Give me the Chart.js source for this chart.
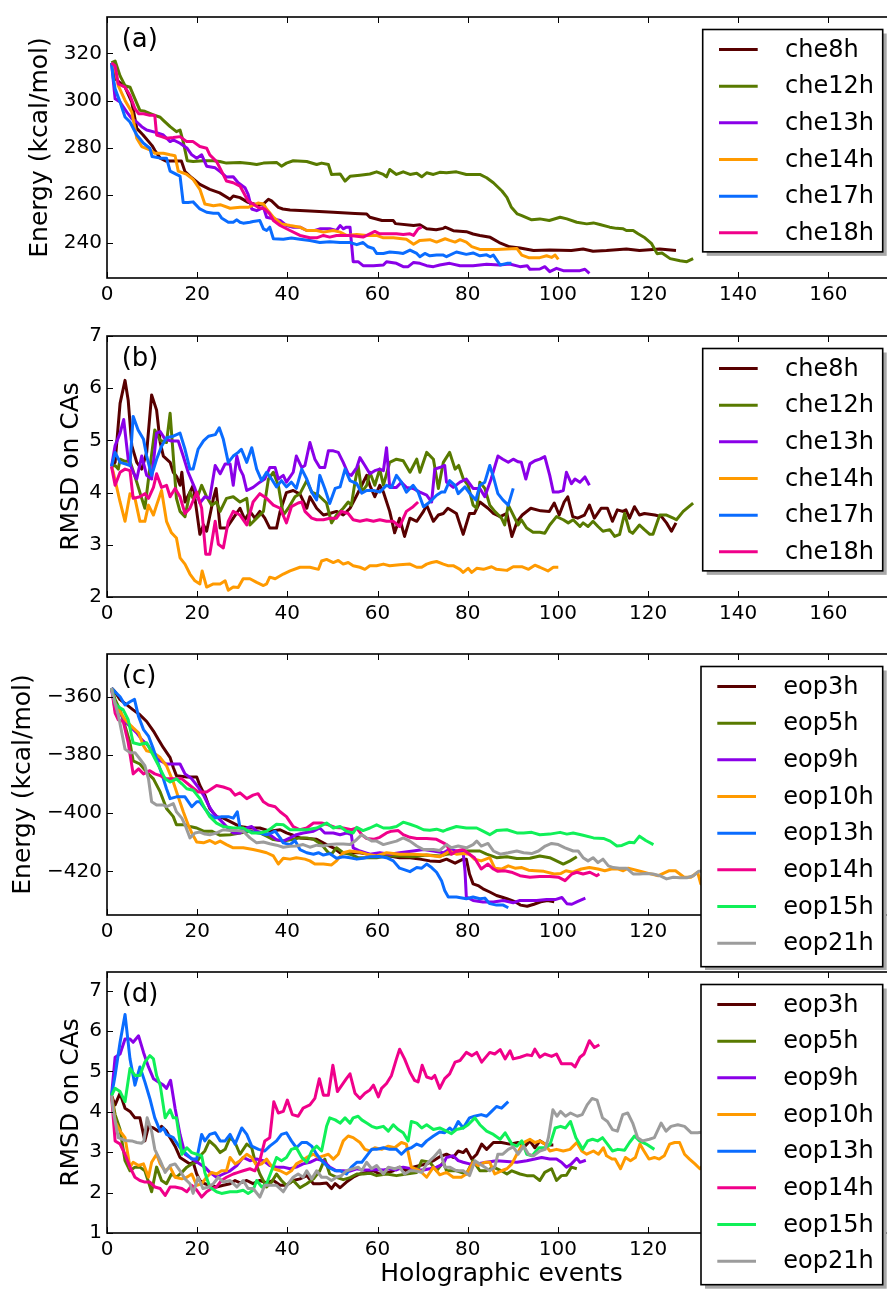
<!DOCTYPE html>
<html>
<head>
<meta charset="utf-8">
<script src="https://cdn.jsdelivr.net/npm/chart.js@4.4.1/dist/chart.umd.min.js"></script>
<style>
  html, body { margin: 0; padding: 0; background: #fff; overflow: hidden; width: 887px; height: 1289px; }
  body { position: relative; }
  canvas { position: absolute; left: 0; }
</style>
</head>
<body>
<canvas id="panelA"></canvas>
<canvas id="panelB"></canvas>
<canvas id="panelC"></canvas>
<canvas id="panelD"></canvas>
<script>
// ---------- shared axis ticks ----------
const xTicks = [0, 20, 40, 60, 80, 100, 120, 140, 160];
const yTicksA = [240, 260, 280, 300, 320];
const yTicksB = [2, 3, 4, 5, 6, 7];
const yTicksC = [-420, -400, -380, -360];
const yTicksD = [1, 2, 3, 4, 5, 6, 7];

const cheNames = ['che8h', 'che12h', 'che13h', 'che14h', 'che17h', 'che18h'];
const eopNames = ['eop3h', 'eop5h', 'eop9h', 'eop10h', 'eop13h', 'eop14h', 'eop15h', 'eop21h'];

// ---------- (a) energy of the che runs, [event, kcal/mol] ----------
const che8hEnergy = [[1,316],[2,309],[4,305.7],[5.5,299.4],[6.6,288.3],[8,285.5],[10,281],[10.6,279],[11.8,275.7],[13,274.5],[16.5,274.5],[17.3,270],[18.8,267.4],[20.6,264.6],[22.8,262.5],[25,261],[27.3,258.3],[28,259.7],[29.5,259],[31.3,257],[33.2,256],[34.7,256.3],[35.8,258.3],[36.5,257.6],[38,254.9],[39,254.2],[40.6,253.8],[45,253.3],[50.2,252.8],[55,252.3],[57.6,252.1],[58.3,250.7],[61,249.3],[63.5,249.3],[64,248],[68,247.2],[69.4,247.5],[70.9,245.8],[73,245.4],[74.6,246],[75,246.5],[76.8,245],[79.7,244.6],[81.2,243.6],[82.7,243],[85,242.2],[87,240],[89.3,238.2],[91.6,237.7],[94.6,236.6],[98.2,236.8],[103,236.6],[105.6,237.3],[107.8,236.3],[110.8,236.6],[115.2,237.3],[118.1,236.6],[122.6,237.3],[126.2,236.6]];
const che12hEnergy = [[1,316],[1.8,316.8],[2.9,310.5],[4,306.4],[5.1,305.7],[6.2,300.8],[7.3,295.9],[8.4,295.5],[10.3,294],[11.8,293],[12.5,291.7],[14,289],[15.4,286.9],[16.2,287.6],[16.9,282.7],[17.8,274.6],[19.1,274.3],[21.4,274.6],[23.6,274.6],[25,274.3],[26.5,273.6],[29.5,273.9],[31.7,273.4],[33.2,273],[34.7,273.6],[37.6,273.9],[38.7,272.3],[39.8,273.6],[41.3,274.6],[44.3,274.3],[46.5,273],[47.6,273.6],[49.1,273],[49.8,268.8],[51.7,269],[52.8,266],[53.9,268],[56.1,268.5],[58.3,269],[59.8,269.9],[61.3,268.8],[62,267.8],[62.7,270.9],[64.2,268.8],[65.7,269.9],[67.2,268.8],[68.7,269.3],[69.8,267.8],[70.9,269.5],[72.4,268.8],[73.8,269.7],[75.3,269.5],[77.5,269.9],[79.7,268.8],[82.7,268.8],[84.2,267.4],[85.7,265.3],[87.6,261.8],[88.7,259.1],[89.7,254.9],[91,252.1],[92,251.4],[94.2,249.6],[96,250],[98.1,249.3],[100.5,250.7],[102,250],[104.2,248.6],[106.4,247.9],[107.9,248.3],[109.3,247.6],[111.5,246.5],[113,246],[114.5,245.8],[115.2,245.1],[116.7,245.1],[117.8,243.7],[119.3,242],[120.8,239.5],[122,235.3],[123.1,235.6],[124.9,233.2],[127.1,232.3],[128.6,231.9],[130,233.2]];
const che13hEnergy = [[1,316],[1.8,300.8],[2.9,299.4],[4.4,295.2],[5.5,292.4],[6.6,291],[7.7,289],[8.8,287.6],[11,286.5],[12.5,285.5],[14,282.7],[14.7,283.4],[16.2,282],[17.7,280],[18.8,277.1],[19.9,275.7],[21,277.1],[22.1,272.3],[24,271.6],[25.1,270],[26.5,267.7],[28,267.8],[29.1,265.3],[30.6,263.2],[31.3,260.4],[32.1,254.2],[33.2,253.5],[34.7,254.9],[35.4,250.7],[36.9,250],[38.4,249.3],[39.8,247.2],[41.3,246.5],[42.8,246.5],[44.3,245.1],[46.1,245.1],[47.2,245.8],[49.4,245.8],[50.9,245.1],[51.7,247.2],[52.4,245.8],[53.1,246.5],[53.9,246.5],[54.6,231.9],[55.7,231.9],[56.8,230.2],[59.1,230.2],[61.3,230.5],[62,231.9],[64.2,231.2],[65.7,229.8],[66.8,229.8],[68,231.6],[69.4,231.2],[70.9,230.2],[72.4,229.8],[73.8,230.5],[76,231.2],[78.3,230.2],[81.2,230.2],[84.2,230.8],[87,230.5],[89.3,230.9],[91.6,229.8],[93.2,230.2],[93.8,228.7],[96,228.8],[97.1,229.8],[98.2,227.7],[99.7,229.1],[101.2,228.1],[103.4,228.1],[104.9,228.1],[106,228.7],[107,227]];
const che14hEnergy = [[1,316],[1.8,313.3],[2.5,306.4],[4,300.1],[5.5,295.2],[6.6,284.1],[7.7,280.6],[9.5,279.2],[10.6,277.8],[12.5,277.8],[14,277.1],[15.1,276.7],[15.8,270.2],[17.7,268.8],[19.1,266.7],[20.6,262.5],[21.7,256.3],[23.6,255.6],[25.1,256],[27.3,254.5],[29.5,254.9],[31.3,254.9],[33.5,256.7],[34.7,256.3],[35.4,254.2],[36.9,250.7],[38.7,247.9],[40.6,247.2],[42.8,246.5],[44.3,245.1],[46.5,245.1],[48,244.4],[50.2,245.1],[51.7,244.4],[53.1,243],[55.4,243.4],[57.6,243],[59.8,243],[61.3,242],[63.5,242],[66.4,241.4],[68,239.3],[69.4,240.9],[71.6,241.2],[73.1,240.2],[75,241.6],[76,240.9],[77.2,240.2],[78.3,241.2],[79.7,240.2],[80.9,238.3],[82.7,237.1],[86.4,237.1],[90.9,237.5],[92,234.7],[93.5,233.6],[96,233.6],[97.5,234.4],[98.6,233.7],[99.4,234.7],[100.1,232.9]];
const che17hEnergy = [[1,316],[1.4,309.5],[1.8,305],[2.9,299.4],[4,293.1],[5.1,291],[6.6,285.5],[8.1,282],[9.5,279.9],[10,276.4],[11.8,275.7],[13.2,275.7],[14,270.2],[15.4,268.8],[16.2,268.1],[16.9,256.9],[18,256.9],[19.1,257.2],[20.6,254.2],[22.1,252.8],[23.6,252.4],[24.7,252.4],[25.4,250.4],[26.9,248.6],[28,248.6],[28.8,249.6],[29.5,248.6],[30.2,248.2],[31.7,248.6],[32.4,248.9],[33.9,249.3],[34.7,245.8],[35.4,245.1],[36.1,246.5],[36.9,241.6],[39.1,241.4],[40.9,241.9],[42.8,241.4],[45,240.9],[47.2,240],[49.4,240.3],[51.7,240],[53.9,240],[55.4,239.1],[56.8,240],[57.9,238.2],[59.1,237.5],[59.8,235.4],[61.3,235.4],[62.7,236],[64.6,235.7],[65.7,235.4],[67.2,236.8],[68.7,235.4],[69.4,234],[70.5,235.4],[71.6,234.4],[73.1,234.7],[74.6,234.7],[75.3,234],[77.5,236],[79.7,235],[81.2,235.6],[82.7,234.4],[84.2,234.8],[85,234],[85.7,234.7],[87.2,230.5],[88.7,231.2],[89.7,231.2]];
const che18hEnergy = [[1,316],[1.8,314.7],[2.5,307.1],[4,305.7],[5.1,302.2],[6.2,296.6],[7,294.5],[8.1,294.5],[9.5,293.8],[10.6,293.8],[11,285.5],[12.1,284.8],[13.2,284.1],[14.7,284.4],[16.2,284.8],[17.7,282.7],[19.1,282.7],[20.6,280.6],[22.1,279.9],[22.8,277.1],[24.3,274.3],[25.4,270.2],[26.5,266],[28,265.3],[29.5,263.9],[31.3,257.6],[32.4,256.3],[33.5,254.9],[35,254.2],[36.1,252.1],[36.9,249.3],[38.4,247.2],[40.6,245.1],[42.8,243],[45,242],[46.5,242],[48,243],[49.4,242.3],[50.9,243],[53.9,243],[56.8,242.3],[58.3,243.7],[59.4,244.7],[60.5,243.7],[62,243.7],[64.2,243.7],[65.7,243.4],[67.2,243.7],[68,243],[69,245.8],[69.8,246.5]];

// ---------- (b) RMSD on CAs of the che runs ----------
const che8hRmsd = [[1,4.52],[1.8,4.58],[2.9,5.71],[4,6.15],[4.7,5.77],[5.5,4.9],[6.6,4.58],[7.7,4.45],[8.8,4.77],[9.9,5.87],[11,5.58],[11.8,4.96],[12.5,4.7],[14,4.58],[14.7,4.39],[15.5,4.3],[16.2,4.14],[16.6,4.39],[17.3,3.82],[18.4,4.01],[19.1,4.14],[19.9,3.64],[20.6,3.2],[21.4,3.38],[22.1,3.26],[23.6,3.89],[24.2,4.08],[25.1,3.32],[26.5,3.32],[28,3.51],[29.5,3.7],[30.6,3.48],[31.7,3.64],[32.8,3.51],[33.9,3.64],[35,3.51],[36.1,3.32],[37.6,3.32],[38.4,3.64],[39.8,4.0],[41.3,4.04],[42.8,3.97],[44.3,3.7],[45,3.92],[46.5,3.7],[48,3.57],[49.4,3.6],[50.9,3.64],[52.4,3.57],[53.9,3.7],[55.4,3.95],[56.5,4.14],[57.6,4.33],[58.3,4.14],[59.4,3.92],[60.5,4.14],[61.3,4.01],[62.7,3.64],[63.8,3.23],[64.9,3.51],[66,3.16],[67.2,3.51],[68.7,3.45],[70.2,3.64],[70.9,3.76],[72.4,3.45],[73.5,3.57],[74.6,3.6],[75.6,3.7],[77.5,3.6],[79,3.2],[80.4,3.6],[81.5,3.6],[82.7,3.82],[84.5,3.7],[85.7,3.6],[87.2,3.54],[88.7,3.6],[89.8,3.16],[91,3.45],[92.1,3.57],[94,3.7],[96.2,3.65],[98.1,3.64],[99.2,3.8],[100.3,3.57],[101.4,3.82],[102.2,3.92],[103.3,3.54],[104.4,3.51],[105.9,3.57],[107,3.76],[108.1,3.51],[109.6,3.7],[111,3.7],[112.1,3.45],[113.2,3.67],[114.4,3.64],[115.1,3.67],[115.9,3.51],[117,3.73],[118.1,3.57],[119.2,3.6],[121.5,3.57],[123,3.54],[124.1,3.42],[125.2,3.26],[126.2,3.42]];
const che12hRmsd = [[1,4.5],[1.8,4.52],[2.5,4.45],[2.9,4.64],[4,4.6],[5.1,4.6],[6.6,4.2],[7.7,3.89],[8.4,3.7],[9.2,4.26],[10.6,5.2],[11.8,5.0],[13.2,4.96],[14,5.52],[14.7,4.7],[15.4,3.89],[16.2,3.64],[17.3,3.54],[18.4,4.01],[19.1,3.89],[20.2,3.95],[21,4.14],[22.1,3.92],[23.2,3.76],[24.3,3.82],[25.1,3.64],[26.5,3.89],[28,3.92],[29.5,3.82],[31,3.89],[31.7,3.38],[33.2,3.51],[34.7,3.64],[35.8,4.26],[36.9,4.39],[38,4.14],[39.1,3.57],[40.2,3.7],[41.7,3.92],[42.8,3.98],[44.3,4.23],[45.4,4.01],[46.9,3.95],[48.7,3.8],[49.8,3.42],[50.9,3.57],[52.4,3.7],[53.5,3.82],[54.2,3.76],[55,4.2],[55.7,4.52],[56.5,4.01],[57.6,4.14],[58.3,4.39],[59.4,4.14],[60.5,4.45],[61.3,4.14],[62.7,4.58],[64.2,4.64],[65.7,4.61],[67.2,4.39],[68.7,4.64],[69.4,4.39],[70.9,4.77],[72.4,4.64],[73.5,4.08],[74.6,4.58],[76,4.77],[77.2,4.45],[78,4.52],[79,4.27],[80.1,4.14],[81.2,3.76],[82,3.7],[82.7,4.2],[83.8,4.08],[84.9,3.76],[86,3.64],[87.5,3.51],[88.2,3.38],[89,3.76],[89.7,3.64],[91.2,3.38],[91.9,3.48],[93.1,3.32],[94.5,3.24],[96,3.24],[97.1,3.22],[98.2,3.38],[99.7,3.54],[101.2,3.48],[102.3,3.42],[103.4,3.48],[104.9,3.35],[105.6,3.42],[106.7,3.35],[107.8,3.45],[108.9,3.35],[110,3.26],[111.5,3.29],[112.6,3.16],[113.7,3.2],[114.8,3.6],[115.9,3.26],[116.6,3.22],[118.1,3.38],[119.2,3.29],[120.4,3.2],[121.1,3.2],[122.6,3.57],[124.1,3.57],[125.6,3.51],[126.3,3.48],[127.8,3.64],[130,3.8]];
const che13hRmsd = [[1,4.5],[1.8,4.9],[2.9,5.14],[3.7,5.4],[4.7,4.64],[5.8,4.39],[6.6,4.26],[7.7,4.7],[8.8,4.33],[9.9,4.26],[11,5.14],[11.8,5.17],[12.9,5.02],[14.3,4.99],[15.8,4.99],[16.9,4.7],[18,4.39],[19.5,4.08],[20.6,3.8],[21.7,3.92],[22.8,3.89],[24,4.52],[25.1,4.36],[26.2,4.55],[27.3,4.55],[28,4.14],[28.8,4.7],[29.5,4.45],[30.2,4.33],[31,4.04],[32.4,4.1],[33.9,4.2],[35,4.26],[36.1,4.48],[37.3,4.48],[38,4.26],[39.1,4.33],[39.8,4.2],[41.3,4.39],[42,4.7],[43.2,4.48],[43.9,4.52],[45,4.96],[46.1,4.64],[47.2,4.48],[48.3,4.48],[49.1,4.8],[50.2,4.8],[51.3,4.77],[52.4,4.58],[53.5,4.36],[54.2,4.33],[55.4,4.48],[56.1,4.67],[57.2,4.52],[58.3,4.36],[59.4,4.42],[60.5,4.45],[61.3,4.42],[62,4.86],[62.7,4.1],[64.2,4.1],[65.3,4.2],[66.4,4.1],[67.9,4.08],[69.4,4.01],[70.9,3.95],[72,3.82],[72.7,4.45],[73.8,4.48],[74.9,4.52],[75.3,4.2],[76.8,4.1],[78.3,4.2],[79.7,4.26],[81.2,4.08],[82.7,4.08],[83.8,3.92],[85.2,4.26],[86.7,4.7],[87.8,4.64],[89,4.58],[90.1,4.64],[91.2,4.59],[91.9,4.58],[92.9,4.26],[93.8,4.55],[94.9,4.61],[96,4.64],[97.1,4.69],[98.2,4.33],[99,4.01],[100.1,4.01],[101.2,4.04],[101.9,4.39],[103,4.17],[103.8,4.26],[104.9,4.2],[106,4.3],[107,4.14]];
const che14hRmsd = [[1,4.5],[1.4,4.39],[2.9,3.82],[4,3.45],[5.1,3.98],[6.2,3.89],[7.3,3.45],[8.4,3.45],[9.2,3.76],[10.3,3.57],[11,3.76],[12.1,4.04],[13.2,3.45],[14.3,3.23],[15.4,3.13],[16.2,2.75],[17.3,2.63],[18.4,2.44],[19.5,2.31],[20.6,2.25],[21.1,2.5],[22.1,2.19],[23.6,2.25],[25.1,2.25],[26.2,2.31],[26.9,2.13],[28,2.19],[29.1,2.18],[30.2,2.35],[31.7,2.35],[33.2,2.28],[34.7,2.22],[35.4,2.25],[36.1,2.38],[37.3,2.35],[39.1,2.44],[40.6,2.5],[42.8,2.57],[45,2.57],[46.9,2.53],[47.6,2.69],[48.7,2.72],[50.2,2.66],[51.3,2.7],[52.4,2.63],[53.5,2.66],[54.6,2.6],[56.1,2.57],[57.2,2.53],[58.3,2.6],[59.8,2.6],[61.3,2.63],[62.7,2.6],[64.9,2.62],[67.2,2.63],[68.7,2.57],[69.8,2.57],[70.9,2.63],[72,2.66],[73.1,2.68],[74.6,2.63],[75.6,2.6],[76.8,2.6],[78.3,2.53],[79,2.47],[80.1,2.55],[80.9,2.47],[82,2.55],[83.5,2.53],[85.3,2.58],[86.4,2.53],[88.7,2.51],[90.1,2.58],[92,2.58],[93.5,2.53],[94.9,2.61],[96,2.57],[97.8,2.5],[99,2.57],[100.1,2.57]];
const che17hRmsd = [[1,4.5],[1.8,4.77],[2.9,4.58],[4,4.55],[5.1,4.52],[5.8,5.46],[6.9,5.2],[8.1,5.02],[8.8,4.7],[9.9,4.33],[11,4.64],[12.1,4.89],[13.2,5.05],[14.7,5.08],[16.2,5.14],[17.3,4.83],[18.4,4.45],[19.1,4.45],[20.2,4.83],[21.4,4.99],[22.5,5.08],[24,5.11],[24.9,5.24],[25.8,5.02],[26.9,4.58],[28,4.7],[29.1,4.77],[29.8,4.83],[31,4.58],[32.1,4.86],[33.2,4.45],[34.3,4.23],[35.4,4.39],[36.5,4.26],[37.6,4.11],[38.7,4.23],[39.8,4.11],[40.9,4.2],[42,4.08],[43.2,4.45],[44.3,4.26],[45.4,4.01],[46.5,3.86],[47.2,4.33],[48.3,4.08],[49.4,3.79],[50.6,4.08],[51.7,4.11],[52.8,4.45],[53.9,4.23],[55.4,4.17],[56.5,3.99],[57.6,4.04],[59.1,4.04],[60.5,4.01],[62,4.14],[63.1,4.1],[64.2,4.33],[65.3,4.2],[66.4,4.01],[67.9,4.14],[69,4.01],[70.2,3.73],[71.6,3.82],[73.1,3.95],[74.2,4.01],[74.9,4.01],[76,4.23],[77.2,4.14],[77.9,3.98],[79.4,4.11],[80.5,3.98],[81.8,3.86],[82.7,4.14],[83.8,4.2],[84.9,4.52],[85.7,4.3],[86.7,3.98],[87.8,3.86],[89,3.76],[90.1,4.08]];
const che18hRmsd = [[1,4.5],[1.8,4.14],[2.9,4.39],[4,4.45],[5.1,4.42],[5.8,3.89],[7.3,3.92],[8.4,3.98],[9.2,3.89],[10.3,4.1],[11,4.36],[12.1,4.1],[13.2,4.14],[14,3.92],[15.1,4.08],[16.2,3.92],[17.3,3.6],[18.4,3.7],[19.9,4.01],[21,3.7],[21.9,2.82],[22.8,2.82],[24,3.45],[24.7,3.01],[25.8,2.94],[26.9,3.45],[28,3.64],[29.5,3.57],[31,3.38],[32.4,3.82],[33.9,3.98],[35.4,3.89],[36.9,3.76],[38.4,3.7],[39.8,3.42],[40.9,3.73],[42.4,3.8],[43.2,3.82],[43.9,3.64],[45.4,3.51],[46.5,3.48],[48,3.48],[49.4,3.51],[50.9,3.51],[52,3.64],[53.5,3.6],[54.6,3.48],[56.1,3.45],[57.6,3.48],[59.1,3.45],[60.5,3.48],[62,3.45],[63.5,3.45],[64.9,3.35],[66.4,3.64],[67.9,3.73],[69,3.82]];

// ---------- (c) energy of the eop runs ----------
const eop3hEnergy = [[1,-357],[1.8,-358.3],[2.9,-361],[4.4,-362.8],[5.8,-364.5],[7.3,-366.2],[8.8,-368.5],[10.3,-371.8],[11.4,-374.7],[12.5,-377.5],[14,-380.9],[14.7,-384.3],[15.4,-387.1],[17.7,-387.6],[19.9,-387.6],[20.6,-390.5],[21.7,-393.8],[22.8,-398.4],[24.3,-401.2],[25.8,-401.7],[28,-403.4],[29.5,-404.6],[31.7,-405.1],[33.9,-405.1],[36.1,-406.2],[38.4,-405.7],[39.8,-406.8],[41.3,-407.6],[42.8,-408.5],[44.3,-408.7],[46.5,-409],[48.7,-410.8],[50.2,-411.9],[51.7,-413.6],[53.9,-413.6],[56.1,-413.6],[58.3,-414.2],[60.5,-414.7],[62.7,-414.7],[64.9,-415.3],[67.2,-415.3],[69.4,-415.8],[71.6,-416.4],[73.8,-416.6],[75.3,-415.8],[77.2,-417.2],[79,-415.8],[79.7,-415.8],[80.4,-420.9],[81.2,-424.3],[82.3,-424.9],[83.4,-426],[84.9,-427.1],[86.4,-428.3],[87.5,-428.8],[88.7,-429.4],[90.6,-430.5],[91.7,-431.6],[93.2,-432],[94.7,-431.3],[96.2,-430.5],[97.7,-430],[99.2,-430.5]];
const eop5hEnergy = [[1,-357],[1.8,-361],[2.9,-364.5],[4,-370],[5.1,-375.8],[5.8,-382],[7.3,-383.1],[8.8,-385.9],[10.3,-388.2],[11.8,-392.7],[13.2,-398.4],[14.7,-401.2],[15.4,-404],[17,-404],[18.4,-404.6],[19.9,-405.1],[21.4,-406.2],[23.2,-406.2],[25.1,-407.6],[27.3,-407.4],[29.5,-406.8],[31.7,-406.2],[33.9,-406.8],[35.4,-407.9],[36.9,-409.1],[39.1,-409.6],[41.3,-409],[42.8,-408.5],[44.3,-408.5],[45.8,-409],[47.6,-410.8],[49.1,-413.6],[49.8,-414.1],[50.9,-411.9],[52.4,-413.6],[53.9,-414.1],[55.7,-415.3],[57.6,-415.3],[59.8,-415.3],[62,-414.7],[64.9,-414.7],[67.9,-415],[70.9,-414.4],[73.8,-414.7],[75.3,-414.1],[78.3,-413.6],[79.7,-413],[82.7,-413],[84.2,-414.1],[86.4,-415.3],[88.7,-415],[90.9,-415.6],[93.8,-415.5],[96,-414.7],[98.2,-415.3],[99.7,-416.4],[101.2,-417.5],[102.7,-416.4],[104.2,-415]];
const eop9hEnergy = [[1,-357],[1.8,-364.5],[2.9,-365.6],[4,-368.5],[5.1,-370.2],[6.6,-372.4],[7.7,-374.7],[9.2,-376.9],[10.3,-379.7],[11.8,-382],[13.2,-383.1],[14.7,-383.1],[16.2,-383.1],[17.3,-386.5],[18.8,-388.2],[20.2,-391],[21.4,-393.8],[22.5,-397.2],[23.6,-400],[25.1,-402.3],[26.5,-404.6],[28,-406.8],[29.5,-406.8],[31,-405.1],[32.1,-404.6],[33.2,-406.2],[34.7,-406.8],[36.1,-407.4],[37.6,-409.1],[39.1,-409.6],[40.6,-408.5],[42,-407.4],[43.5,-406.8],[45.8,-406.2],[47.2,-405.1],[48.3,-406.8],[50.2,-406.8],[51.7,-407.4],[53.1,-406.8],[54.2,-407.4],[54.6,-411.9],[56.1,-413],[58.3,-414.1],[60.5,-413.6],[62.7,-414.1],[64.9,-413.6],[67.9,-413],[70.2,-412.5],[72.4,-413],[74.6,-413.6],[75.3,-413],[76,-412.5],[77.5,-413],[79,-413.6],[79.4,-419.8],[79.7,-428.8],[81.2,-430],[83.4,-430.5],[85.7,-430.5],[87.9,-430],[90.1,-430.8],[91.6,-430],[93.5,-430],[95.3,-430],[97.5,-429.7],[99.4,-429.7],[100.9,-429],[102,-431.1],[103.1,-431.3],[104.2,-430.5],[106.1,-429.2]];
const eop10hEnergy = [[1,-357],[1.8,-363.4],[2.9,-365.1],[4,-367.9],[4.7,-369],[5.8,-370.7],[7,-372.4],[8.1,-376.9],[8.8,-378.6],[10.3,-379.2],[11.8,-380.9],[13.2,-383.7],[14.7,-389.3],[15.8,-394.4],[16.9,-399.4],[18,-404],[18.8,-406.8],[19.9,-409.9],[21.4,-410.2],[22.8,-409.4],[24,-410.4],[25.1,-409.6],[26.5,-410.8],[28,-411.9],[30.2,-411.9],[32.4,-412.5],[33.9,-413],[35.4,-413.6],[36.9,-414.7],[38,-417.5],[39.1,-415.5],[40.6,-415.8],[42,-415.3],[43.9,-415.8],[45,-416.4],[46.1,-417.5],[48,-417.5],[49.8,-417.8],[50.9,-416.4],[52.4,-413.6],[53.9,-413],[56.1,-413.4],[57.6,-414.1],[59.8,-414.7],[62,-413.6],[64.9,-414.1],[67.9,-414.1],[70.9,-414.4],[73.8,-415],[75,-414],[76,-413],[77.5,-414.1],[79,-413.9],[80.4,-414.1],[81.5,-415.8],[83,-416.4],[84.9,-415.3],[86,-418.9],[87.5,-419.2],[89,-418.1],[90.5,-418.9],[92,-418.7],[93.5,-419.6],[95,-419.8],[96.9,-420],[99.2,-420.9],[100.7,-420.7],[101.8,-419.8],[103.3,-420.3],[105.2,-419.2],[107,-418.7],[108.9,-419.2],[110.4,-419.8],[111.9,-419.2],[113.4,-419.2],[114.5,-419.8],[115.6,-418.9],[117.8,-419.8],[120.1,-420.7],[122.3,-421.5],[124.6,-419.8],[126.1,-419.8],[128,-422],[129.5,-422],[131,-420.3],[131.7,-424.3],[132.3,-424],[134,-423]];
const eop13hEnergy = [[1,-357],[1.8,-358.3],[2.9,-360],[4,-362.8],[5.1,-361.7],[6.1,-360.9],[7,-366.8],[8.1,-371.3],[9.2,-373.5],[10.3,-378],[11.4,-383.1],[12.5,-388.2],[13.2,-391.6],[14,-395],[15.4,-394.4],[17.3,-394.4],[18.8,-397.8],[19.9,-396.1],[20.6,-396.1],[21.7,-398.4],[22.8,-400.6],[24,-401.7],[25.4,-401.2],[26.9,-401.2],[28,-401.7],[28.9,-399.5],[29.5,-405.1],[31,-406],[32.4,-406.6],[33.9,-406.8],[35.4,-407.4],[36.5,-406.8],[37.3,-406.2],[38.4,-408.5],[39.1,-410.2],[40.6,-410.8],[41.7,-409.4],[42.8,-412.5],[44.3,-413.6],[45.8,-414.1],[46.9,-413.6],[48,-414.4],[49.4,-413.9],[50.9,-415.5],[52.4,-415],[53.9,-415.3],[55.4,-415.8],[56.8,-415.5],[58.3,-415],[60.5,-414.9],[62,-415.3],[63.5,-416.4],[64.9,-418.9],[67.2,-420.1],[68.7,-418.7],[69.8,-418.9],[70.9,-417.5],[72,-418.7],[73.1,-420.3],[74.2,-423.2],[74.9,-426.6],[75.7,-428.8],[77.5,-428.8],[79.7,-429.4],[81.2,-428.8],[82.7,-429.4],[83.8,-429.2],[84.9,-431.1],[86.4,-431.6],[87.9,-431.6],[89,-432.5]];
const eop14hEnergy = [[1,-357],[1.8,-365.6],[2.5,-367.9],[3.6,-368.5],[4.7,-375.8],[5.8,-386.5],[7,-384.8],[8.1,-386.5],[9.5,-385.4],[10.6,-386.5],[11.8,-387.1],[13.2,-388.2],[14.7,-388.2],[16.6,-388.2],[18.4,-390.5],[20.2,-392.7],[22.1,-392.7],[24.3,-390.5],[25.8,-391],[27.3,-391.8],[28.4,-393.8],[29.5,-393],[31,-395],[32.4,-393.8],[33.5,-393.3],[34.7,-396.1],[35.8,-397.2],[37.3,-397.8],[38.4,-399.5],[39.8,-401.2],[41.3,-404.6],[42.8,-405.7],[44.3,-405.1],[45.8,-403.4],[47.6,-403.4],[49.1,-404],[50.6,-404.9],[52.4,-405.1],[54.2,-405.7],[55.4,-405.1],[56.5,-407.4],[57.6,-408.7],[59.1,-409],[60.5,-408.3],[62,-406.8],[63.1,-406.2],[64.6,-406],[65.7,-407.4],[67.2,-408.3],[68.7,-408.7],[70.9,-408.7],[73.1,-409],[74.6,-410.2],[75.3,-410.8],[76.4,-414.1],[77.5,-413],[79,-412.5],[80.4,-414.1],[81.5,-415.3],[83,-419.2],[84.5,-417.5],[85.7,-419.2],[86.7,-420],[88.2,-419.8],[89.7,-420.3],[91.6,-421.5],[93.8,-422],[96,-421.8],[98.2,-421.8],[100.1,-422],[101.6,-423.2],[103.1,-420.9],[104.2,-420.3],[105.6,-420.9],[107.1,-420.3],[108.6,-421.5],[109.2,-420.9]];
const eop15hEnergy = [[1,-357],[1.8,-362.3],[2.5,-363.4],[3.6,-364.5],[4.7,-367.9],[5.8,-375.8],[7.3,-376.4],[8.8,-375.8],[10.3,-380.3],[11.8,-384.8],[12.9,-388.2],[14,-389.3],[15.4,-388.2],[16.6,-389.9],[17.7,-391.6],[19.1,-392.1],[20.6,-395],[21.7,-398.4],[22.8,-401.2],[24.3,-403.4],[25.8,-404.6],[28,-405.1],[30.2,-405.1],[32.1,-406.8],[33.9,-406.8],[35.4,-406.2],[36.5,-405.1],[37.6,-403.8],[39.1,-404],[40.6,-405.7],[42,-405.7],[44.3,-405.7],[46.5,-405.1],[48.7,-403.4],[50.2,-405.1],[51.7,-404.6],[53.1,-406.2],[54.6,-406.8],[55.4,-404.9],[56.8,-406],[58.3,-405.1],[59.8,-404],[61.3,-405.1],[62.7,-405.1],[64.2,-404.6],[65.7,-403.1],[67.2,-403.8],[68.7,-404.6],[70.2,-405.7],[71.6,-405.9],[73.1,-405.5],[74.6,-406.2],[75.3,-405.7],[77.5,-404.6],[79.7,-405.1],[82,-405.1],[83.4,-406.2],[84.9,-407.4],[86.4,-406],[88.7,-405.7],[90.9,-406.8],[92.4,-406.8],[94.2,-406.6],[96,-407.4],[98.2,-407.2],[100.5,-406.6],[102,-407.2],[103.4,-406.8],[105.6,-407.6],[107.9,-408.5],[110.1,-408.7],[111.6,-409.6],[113.1,-411.3],[114.2,-411.1],[115.8,-410],[116.9,-410.2],[118.1,-407.9],[119.5,-409.4],[121.2,-410.8]];
const eop21hEnergy = [[1,-357],[1.4,-360],[2.5,-366.2],[4,-378],[5.1,-379.2],[6.2,-379.2],[7.3,-381.4],[8.4,-383.7],[9.2,-388.2],[9.9,-396.1],[11,-397.2],[12.5,-397.2],[13.2,-397.8],[14.7,-396.7],[15.4,-399.5],[16.6,-401.7],[17.3,-404],[18.4,-408.5],[19.5,-406.8],[20.6,-406.5],[21.7,-407.2],[22.8,-407.4],[24.3,-406.8],[25.8,-405.7],[27.3,-406],[28.8,-406],[30.2,-406.2],[31.7,-408.5],[33.2,-410.2],[34.7,-409.9],[36.1,-410.5],[37.6,-411],[39.1,-411.7],[40.6,-411.4],[42,-411.3],[43.5,-410.8],[45,-411.7],[46.5,-411],[48,-411.3],[49.4,-410.8],[50.9,-410.6],[52.4,-410.6],[53.9,-410.8],[55,-409.6],[56.5,-407.4],[57.6,-408.5],[58.7,-409.6],[59.8,-409.6],[61.3,-410.8],[62.7,-410.2],[64.2,-409.6],[65.7,-408.5],[67.2,-409.6],[68.7,-411.3],[70.2,-412.5],[72.4,-412.5],[73.8,-412.8],[75.3,-410.8],[76.4,-411.9],[77.9,-411.3],[79.7,-411.9],[81.2,-410.8],[82,-409.6],[83,-411.3],[84.5,-410.4],[85.7,-413],[87.2,-414.1],[89,-413.6],[90.9,-413],[92.4,-413.6],[94.2,-413.9],[95.7,-413],[97.2,-411.3],[98.6,-410.4],[100.1,-410.8],[101.6,-411.9],[103.4,-413],[104.5,-413],[105.6,-415.3],[106.7,-416.4],[107.8,-415.3],[108.9,-417],[110,-415.8],[111.2,-418.1],[112.3,-418.7],[113.7,-418.9],[115.2,-418.9],[116.7,-420.9],[118.1,-420.9],[119.6,-420.7],[121.1,-420.9],[122.6,-421.5],[124.1,-422.6],[125.6,-422],[127.1,-422.2],[128.6,-422.2],[130.1,-421.5],[131.2,-420],[132,-420],[134,-421]];

// ---------- (d) RMSD on CAs of the eop runs ----------
const eop3hRmsd = [[1,4.4],[1.8,4.17],[2.9,4.46],[4,4.09],[5.1,4.01],[6.2,3.85],[7.3,3.85],[8.4,3.28],[9.2,3.64],[10.3,3.6],[11.4,3.52],[12.1,3.64],[13.2,3.52],[14,3.36],[15.1,3.15],[16.2,2.87],[17.3,2.79],[18.4,2.71],[19.1,2.75],[19.9,2.46],[20.6,2.3],[21.7,2.22],[22.8,2.18],[24.3,2.14],[25.8,2.18],[27.3,2.22],[28.4,2.3],[29.5,2.24],[31,2.3],[32.4,2.22],[33.9,2.3],[35.4,2.24],[36.9,2.3],[38.4,2.18],[39.8,2.18],[41.3,2.3],[42.8,2.34],[44.3,2.42],[45.8,2.22],[47.2,2.22],[48.7,2.24],[49.8,2.1],[50.6,2.22],[51.7,2.12],[53.1,2.26],[54.6,2.38],[56.1,2.46],[57.6,2.5],[59.1,2.54],[60.5,2.46],[62,2.48],[63.5,2.54],[64.9,2.63],[66.4,2.54],[67.9,2.63],[69.4,2.67],[70.9,2.71],[72.4,2.79],[73.8,2.89],[75.3,2.95],[76.8,2.87],[77.9,3.03],[79,2.99],[79.7,3.07],[80.9,2.83],[82,2.95],[83.1,3.2],[84.2,3.07],[85.7,3.24],[87.5,3.24],[89.3,3.2],[91.2,3.24],[92.7,3.15],[93.8,3.28],[94.9,3.11],[96,3.28],[97.5,3.18],[99,3.18]];
const eop5hRmsd = [[1,4.4],[1.8,3.93],[2.9,3.56],[4,2.79],[5.1,2.54],[6.2,2.63],[7.3,2.63],[8.4,2.54],[9.9,2.02],[11,2.63],[12.1,2.3],[13.2,2.22],[14.3,2.46],[15.4,2.38],[16.6,2.5],[17.7,2.63],[18.8,2.71],[19.9,2.75],[21,2.95],[21.7,3.03],[22.7,3.28],[24,3.15],[25.1,2.99],[26.2,3.07],[27.3,3.36],[28.4,3.24],[29.5,2.95],[31,3.2],[32.1,3.11],[32.8,2.79],[33.9,2.46],[35.4,2.14],[36.5,2.26],[37.6,2.46],[38.7,2.3],[39.8,2.18],[41.3,2.3],[42.8,2.12],[44.3,2.22],[45.8,2.34],[47.2,2.54],[48.3,2.83],[49.4,2.46],[50.9,2.38],[52.4,2.32],[53.9,2.37],[55.4,2.46],[56.8,2.46],[58.3,2.48],[59.8,2.42],[62,2.46],[64.2,2.42],[66.4,2.46],[68.7,2.5],[69.8,2.79],[71.6,2.75],[73.1,2.54],[74.6,2.75],[75.3,2.54],[77.5,2.54],[79.7,2.46],[81.2,2.79],[82.7,2.54],[84.2,2.54],[85.7,2.63],[87.5,2.54],[88.7,2.46],[89.8,2.54],[91.6,2.46],[93.1,2.42],[94.6,2.42],[96,2.3],[97.1,2.5],[98.6,2.59],[99.7,2.3],[100.8,2.42],[101.9,2.43],[103,2.63],[104.2,2.59]];
const eop9hRmsd = [[1,4.4],[1.8,5.35],[2.9,5.43],[4,5.8],[5.1,5.8],[5.8,5.72],[7,5.88],[8.1,5.47],[9.2,5.11],[10.3,4.82],[11.4,4.74],[12.5,4.66],[13.2,4.58],[14.1,4.78],[15.1,4.09],[16.2,3.44],[17.3,2.95],[18.4,2.87],[19.5,2.79],[20.6,2.71],[21.7,2.63],[22.8,2.5],[24.3,2.38],[25.8,2.46],[27.3,2.54],[28.8,2.67],[30.2,2.87],[31.7,2.79],[33.2,2.83],[34.7,2.79],[36.1,2.67],[37.6,2.63],[39.1,2.63],[40.6,2.59],[42,2.63],[43.5,2.71],[45,2.75],[46.5,2.83],[48,2.79],[49.4,2.63],[50.9,2.54],[52.4,2.54],[53.9,2.53],[55.4,2.59],[56.8,2.56],[58.3,2.56],[59.8,2.57],[61.3,2.56],[62.7,2.59],[64.2,2.56],[65.7,2.63],[67.2,2.6],[68.7,2.56],[70.2,2.56],[71.6,2.59],[73.1,2.63],[74.6,2.71],[75.3,2.87],[76.8,2.91],[77.9,2.79],[79,2.75],[80.4,2.71],[82,2.71],[84.2,2.75],[86.4,2.79],[88.7,2.77],[90.9,2.75],[93.1,2.79],[94.9,2.83],[96.4,2.87],[98.2,2.83],[99.7,2.83],[100.8,2.75],[101.9,2.63],[103,2.71],[104.2,2.85],[104.9,2.75],[106.2,2.8]];
const eop10hRmsd = [[1,4.4],[1.8,3.76],[2.9,3.52],[4,3.36],[5.1,2.63],[5.8,2.75],[7,2.67],[8.1,2.71],[9.2,2.38],[9.9,2.75],[11,2.95],[11.8,2.71],[12.9,2.54],[14,2.63],[15.1,2.38],[16.6,2.34],[17.7,2.38],[18.8,2.46],[19.9,2.18],[21,2.22],[22.1,2.38],[23.2,2.5],[24.3,2.46],[25.4,2.54],[26.5,2.54],[27.3,2.87],[28.4,2.71],[29.5,2.79],[31,2.95],[32.1,2.87],[33.2,2.67],[34.3,2.71],[35.4,2.83],[36.9,2.59],[38.4,2.54],[39.8,2.46],[40.9,2.54],[42,2.71],[43.2,2.79],[44.3,2.87],[45.8,2.95],[46.9,2.87],[48,2.91],[49.1,2.95],[50.2,2.83],[51.3,2.95],[52.4,3.28],[53.5,3.4],[54.6,3.36],[56.1,3.24],[57.2,3.07],[58.3,3.03],[59.4,3.11],[60.9,3.07],[62.4,3.15],[63.8,3.11],[65.3,3.24],[66.4,3.2],[67.5,2.63],[69.4,2.54],[70.9,2.38],[72.4,2.63],[73.8,2.44],[75.3,2.5],[76.8,2.38],[78.6,2.38],[79.7,2.46],[81.2,2.75],[82.3,2.67],[83.8,2.75],[84.9,2.75],[86,2.46],[87.5,2.54],[88.7,2.59],[89.8,2.71],[90.9,2.95],[92.4,3.24],[93.8,3.32],[94.9,3.24],[96,3.28],[97.1,3.2],[98.2,3.03],[99.7,3.07],[101.2,3.03],[102.7,3.07],[104.2,3.24],[105.3,3.03],[106.4,2.95],[107.9,3.03],[109,2.95],[110.1,3.11],[110.8,2.91],[112,2.83],[112.7,2.83],[113.9,2.59],[115,2.87],[116.1,2.79],[117.2,2.87],[118.2,3.2],[119.1,3.03],[120.2,2.83],[121.4,2.87],[122.5,2.83],[123.6,2.91],[124.8,3.2],[125.9,3.24],[127,3.24],[128.1,2.95],[129.2,2.83],[130.4,2.71],[131.5,2.59],[132.2,2.67],[134,2.7]];
const eop13hRmsd = [[1,4.4],[1.8,4.9],[2.9,5.72],[4,6.41],[5.1,5.31],[6.2,4.66],[7.3,5.11],[8.4,4.74],[9.5,4.33],[10.6,3.85],[11.8,3.52],[12.5,3.6],[13.2,3.44],[14.7,3.36],[16.2,3.11],[17.7,2.95],[18.8,2.83],[19.9,2.83],[21,3.44],[21.7,3.28],[22.8,3.44],[24,3.48],[25.1,3.28],[26.2,3.28],[27.3,3.44],[28.4,3.2],[29.9,3.6],[31,3.44],[32.1,3.15],[33.6,3.07],[35,3.03],[36.1,3.15],[37.6,3.28],[38.7,3.44],[39.8,3.48],[40.9,3.28],[42,3.11],[43.2,3.24],[44.3,3.24],[45.4,3.15],[46.5,2.95],[47.6,2.79],[49.1,2.63],[50.6,2.54],[51.7,2.54],[53.1,2.46],[54.2,2.63],[55.4,2.75],[56.5,2.75],[57.6,2.91],[58.7,3.07],[59.8,3.07],[61.3,3.11],[62.7,3.07],[64.2,3.07],[65.3,2.95],[66.4,3.07],[67.5,3.11],[68.7,3.2],[69.8,3.15],[70.9,3.28],[72.4,3.4],[73.8,3.5],[74.9,3.48],[76,3.6],[76.8,3.52],[77.9,3.76],[79,3.6],[80.4,3.85],[81.5,3.89],[83,3.93],[84.2,3.89],[85.3,4.01],[86.4,4.13],[87.5,4.09],[89,4.25]];
const eop14hRmsd = [[1,4.4],[1.8,3.28],[2.9,3.2],[4,2.95],[5.1,2.63],[6.2,2.38],[7.3,2.3],[8.4,2.26],[9.5,2.26],[10.6,2.14],[11.8,2.1],[12.9,1.93],[14,2.14],[15.1,2.14],[16.6,2.1],[17.7,2.02],[18.8,2.18],[19.9,2.06],[21,1.89],[22.1,2.02],[23.2,2.1],[24.3,2.14],[25.4,2.3],[26.5,2.38],[28,2.46],[29.1,2.5],[30.2,2.54],[31.7,2.59],[32.8,2.54],[33.9,2.79],[35,3.28],[36.1,3.36],[37,4.25],[38,3.97],[39.1,4.01],[40,4.29],[41.1,3.93],[42.4,3.89],[43.5,4.09],[45,4.17],[46.1,4.33],[47.1,4.82],[48,4.41],[49.1,4.41],[50.1,5.15],[51.1,4.5],[52.1,4.66],[53.1,4.82],[53.9,4.94],[55,4.46],[56.1,4.33],[57.2,4.46],[58.3,4.54],[59.1,4.66],[60.2,4.37],[60.9,4.58],[62,4.7],[63.1,4.9],[64.2,5.31],[64.9,5.55],[66,5.31],[67.2,4.98],[68.2,4.78],[69,4.74],[69.9,5.15],[70.9,4.86],[72,4.82],[72.7,4.9],[73.8,4.58],[74.9,4.82],[76,4.94],[77.2,5.23],[78.3,5.27],[79.7,5.47],[80.9,5.39],[82,5.47],[83.1,5.23],[84.9,5.47],[86,5.43],[87.2,5.54],[88.3,5.31],[89.4,5.51],[90.1,5.31],[91.6,5.35],[93.1,5.41],[94.2,5.39],[94.9,5.55],[96,5.35],[97.1,5.43],[98.6,5.37],[99.7,5.43],[100.8,5.19],[101.9,5.19],[103,5.19],[103.8,5.11],[104.9,5.35],[105.8,5.43],[107,5.76],[108.1,5.59],[109.2,5.66]];
const eop15hRmsd = [[1,4.4],[1.8,4.58],[2.9,4.5],[4,4.25],[5.1,5.07],[6.2,4.9],[7.3,4.9],[8.4,5.23],[9.5,5.39],[10.3,5.31],[11,4.9],[11.8,4.66],[12.9,3.85],[14,4.05],[14.7,3.85],[15.4,3.85],[16.6,2.95],[17.7,3.11],[18.8,2.99],[19.9,2.95],[21,2.91],[21.7,2.5],[22.8,2.14],[24.3,2.02],[25.4,1.98],[27.3,2.02],[28.8,2.02],[30.2,2.06],[31.3,1.98],[32.4,2.06],[33.2,2.3],[34.3,2.14],[35.4,2.22],[36.5,2.54],[37.6,2.87],[38.7,2.79],[39.8,2.87],[40.9,3.07],[42,3.11],[43.2,2.87],[44.3,2.75],[45.4,3.03],[46.5,3.15],[47.6,3.03],[48.7,3.64],[49.4,3.85],[50.6,3.8],[51.7,3.72],[52.8,3.85],[53.9,3.72],[54.6,3.85],[55.7,3.89],[56.5,3.8],[57.6,3.72],[58.7,3.64],[59.8,3.6],[61.3,3.64],[62.4,3.52],[63.5,3.68],[64.6,3.56],[65.7,3.48],[66.8,3.28],[67.5,3.76],[68.7,3.72],[69.8,3.6],[70.9,3.68],[72.4,3.56],[73.8,3.6],[75.3,3.52],[76.4,3.46],[77.5,3.56],[79,3.6],[80.1,3.68],[81.6,3.85],[82.7,3.68],[84.2,3.52],[85.7,3.44],[87.2,3.32],[88.3,3.48],[89.8,3.2],[90.9,3.15],[92,3.28],[93.1,2.95],[94.3,2.91],[95.8,3.11],[97.2,3.11],[98.3,3.2],[99.4,3.6],[100.6,3.64],[101.7,3.6],[102.8,3.76],[104,3.36],[105.5,3.07],[106.6,3.28],[107.7,3.32],[108.8,3.28],[109.9,3.36],[111,3.2],[112.1,3.03],[113.3,3.07],[114.8,3.05],[115.9,3.24],[117,3.4],[118.1,3.28],[119.6,3.2],[121.4,3.07]];
const eop21hRmsd = [[1,4.4],[1.4,4.01],[2.5,3.36],[4,3.29],[5.5,3.28],[6.6,3.24],[7.7,3.22],[8.2,3.28],[8.9,3.85],[9.9,3.52],[10.6,3.07],[11.8,2.79],[12.9,2.5],[14,2.67],[15.1,2.71],[16.2,2.54],[17.3,2.34],[18.4,2.22],[19.1,1.98],[20.2,2.38],[21.3,2.1],[22.5,2.14],[23.6,2.22],[24.7,2.38],[25.8,2.26],[27.3,2.3],[28.8,2.14],[30.2,2.3],[31.3,2.1],[32.4,2.1],[33.9,1.89],[35,2.18],[36.5,2.18],[37.6,2.18],[39.1,2.02],[40.2,2.22],[41.3,2.38],[42.4,2.46],[43.5,2.38],[44.3,2.54],[45.4,2.34],[46.5,2.54],[47.6,2.38],[48.7,2.38],[49.8,2.3],[50.9,2.38],[52,2.42],[53.1,2.54],[54.6,2.59],[55.7,2.63],[56.5,2.54],[57.6,2.75],[58.7,2.59],[59.8,2.67],[61.3,2.46],[62.4,2.63],[63.8,2.59],[64.9,2.63],[66,2.46],[67.2,2.54],[68.2,2.54],[69.8,2.5],[70.9,2.71],[72.4,2.87],[73.8,3.05],[74.9,2.63],[76,2.63],[77.5,2.54],[79,2.54],[80.4,2.42],[81.6,2.79],[82.7,2.71],[83.8,2.63],[84.9,2.54],[86,2.63],[86.7,2.95],[87.8,2.95],[89,3.07],[90.1,3.13],[91.2,2.95],[92.4,3.15],[93.5,2.95],[94.6,2.91],[96,3.03],[97.2,3.07],[97.9,3.36],[98.9,4.05],[99.8,3.89],[100.6,4.01],[101.7,3.89],[102.8,3.97],[104.3,3.89],[105.4,3.93],[106.5,4.17],[107.6,4.33],[108.7,4.29],[109.9,3.85],[111,3.76],[112.1,3.56],[113.2,3.52],[114.4,3.93],[115.5,3.97],[116.6,3.72],[117.7,3.36],[118.8,3.28],[120.3,3.32],[121.4,3.36],[122.9,3.72],[124,3.52],[125.1,3.64],[126.6,3.68],[128.1,3.64],[129.6,3.48],[131,3.48],[132.1,3.5],[134,3.5]];

// ---------- styling ----------
const FONT = '"DejaVu Sans", "Liberation Sans", sans-serif';
const cheColors = ['#580000', '#587a00', '#8a00e8', '#ff9a00', '#0a6cff', '#f0008a'];
const eopColors = ['#580000', '#587a00', '#8a00e8', '#ff9a00', '#0a6cff', '#f0008a', '#10f058', '#9c9c9c'];

Chart.defaults.font.family = FONT;
Chart.defaults.color = '#000';

const CANVAS_W = 900;        // right spine sits just past the page edge
const AXIS_W = 107;          // y-axis strip width
const AREA_H = 265;          // plot height of every panel

function minusLabel(v) { return v < 0 ? '\u2212' + Math.abs(v) : String(v); }

function decorations(p) {
  return {
    id: 'decor_' + p.id,
    afterDatasetsDraw(chart) {
      const { ctx, chartArea: a, scales } = chart;
      ctx.save();
      // inward tick marks on all four sides
      ctx.strokeStyle = '#000';
      ctx.lineWidth = 1;
      ctx.beginPath();
      for (const v of xTicks) {
        const x = Math.round(scales.x.getPixelForValue(v)) + 0.5;
        ctx.moveTo(x, a.bottom); ctx.lineTo(x, a.bottom - 6);
        ctx.moveTo(x, a.top); ctx.lineTo(x, a.top + 6);
      }
      for (const v of p.yTicks) {
        const y = Math.round(scales.y.getPixelForValue(v)) + 0.5;
        ctx.moveTo(a.left, y); ctx.lineTo(a.left + 6, y);
        ctx.moveTo(a.right, y); ctx.lineTo(a.right - 6, y);
      }
      ctx.stroke();
      // axes frame
      ctx.lineWidth = 1.6;
      ctx.strokeRect(a.left, a.top, a.right - a.left, a.bottom - a.top);
      // panel tag
      ctx.fillStyle = '#000';
      ctx.font = '26px ' + FONT;
      ctx.textAlign = 'left';
      ctx.textBaseline = 'middle';
      ctx.fillText(p.tag, a.left + 14.7, a.top + 23.4);
      ctx.restore();
    },
    afterDraw(chart) {
      // framed legend with drop shadow in the upper right corner
      const { ctx, chartArea: a } = chart;
      const n = p.names.length;
      const top = a.top + 12.5;
      const firstRow = top + 20;
      const rowGap = 36.67;
      const bottom = firstRow + (n - 1) * rowGap + p.legend.tail;
      const left = p.legend.left, right = p.legend.right;
      ctx.save();
      ctx.fillStyle = '#a8a8a8';
      ctx.fillRect(left + 4, top + 4, right - left, bottom - top);
      ctx.fillStyle = '#fff';
      ctx.fillRect(left, top, right - left, bottom - top);
      ctx.strokeStyle = '#000';
      ctx.lineWidth = 1.6;
      ctx.strokeRect(left, top, right - left, bottom - top);
      ctx.font = '24px ' + FONT;
      ctx.textAlign = 'left';
      ctx.textBaseline = 'middle';
      for (let i = 0; i < n; i++) {
        const y = firstRow + i * rowGap;
        ctx.strokeStyle = p.colors[i];
        ctx.lineWidth = 3;
        ctx.beginPath();
        ctx.moveTo(left + 16.3, y);
        ctx.lineTo(left + 55, y);
        ctx.stroke();
        ctx.fillStyle = '#000';
        ctx.fillText(p.names[i], left + 82.3, y + 1);
      }
      ctx.restore();
    }
  };
}

function buildPanel(p) {
  const canvas = document.getElementById(p.id);
  canvas.width = CANVAS_W;
  canvas.height = p.height;
  canvas.style.top = p.canvasTop + 'px';
  const n = p.series.length;
  const datasets = p.series.map((pts, i) => ({
    label: p.names[i],
    data: pts.map(([x, y]) => ({ x, y })),
    borderColor: p.colors[i],
    backgroundColor: p.colors[i],
    borderWidth: 3,
    borderJoinStyle: 'round',
    pointRadius: 0,
    pointHoverRadius: 0,
    tension: 0,
    fill: false,
    order: n - i
  }));
  new Chart(canvas, {
    type: 'line',
    data: { datasets },
    options: {
      responsive: false,
      animation: false,
      devicePixelRatio: 1,
      events: [],
      layout: { padding: { top: 13, right: CANVAS_W - 896, bottom: 0, left: 0 } },
      plugins: { legend: { display: false }, tooltip: { enabled: false } },
      scales: {
        x: {
          type: 'linear', position: 'bottom', min: 0, max: 175,
          grid: { display: false, drawTicks: false },
          border: { display: false },
          afterBuildTicks: s => { s.ticks = xTicks.map(v => ({ value: v })); },
          afterFit: s => { s.height = p.xAxisHeight; },
          ticks: { padding: 5, autoSkip: false, maxRotation: 0, color: '#000',
                   font: { size: 20 }, callback: v => String(v) },
          title: p.xTitle
            ? { display: true, text: p.xTitle, color: '#000', font: { size: 25 }, padding: { top: 0, bottom: 0 } }
            : { display: false }
        },
        y: {
          type: 'linear', position: 'left', min: p.yMin, max: p.yMax,
          grid: { display: false, drawTicks: false },
          border: { display: false },
          afterBuildTicks: s => { s.ticks = p.yTicks.map(v => ({ value: v })); },
          afterFit: s => { s.width = AXIS_W; },
          ticks: { padding: 5, color: '#000', font: { size: 20 }, callback: v => minusLabel(v) },
          title: { display: true, text: p.yTitle, color: '#000', font: { size: 25 },
                   padding: { top: p.yTitlePad, bottom: 0 } }
        }
      }
    },
    plugins: [decorations(p)]
  });
}

buildPanel({
  id: 'panelA', tag: '(a)', canvasTop: 0, height: 13 + AREA_H + 40, xAxisHeight: 40,
  series: [che8hEnergy, che12hEnergy, che13hEnergy, che14hEnergy, che17hEnergy, che18hEnergy],
  names: cheNames, colors: cheColors,
  yMin: 225, yMax: 335.4, yTicks: yTicksA, yTitle: 'Energy (kcal/mol)', yTitlePad: 25,
  legend: { left: 702.7, right: 882.7, tail: 19 }
});
buildPanel({
  id: 'panelB', tag: '(b)', canvasTop: 319, height: 13 + AREA_H + 40, xAxisHeight: 40,
  series: [che8hRmsd, che12hRmsd, che13hRmsd, che14hRmsd, che17hRmsd, che18hRmsd],
  names: cheNames, colors: cheColors,
  yMin: 2, yMax: 7, yTicks: yTicksB, yTitle: 'RMSD on CAs', yTitlePad: 56,
  legend: { left: 702.7, right: 882.7, tail: 19 }
});
buildPanel({
  id: 'panelC', tag: '(c)', canvasTop: 637, height: 13 + AREA_H + 55, xAxisHeight: 55,
  series: [eop3hEnergy, eop5hEnergy, eop9hEnergy, eop10hEnergy, eop13hEnergy, eop14hEnergy, eop15hEnergy, eop21hEnergy],
  names: eopNames, colors: eopColors,
  yMin: -435, yMax: -345.3, yTicks: yTicksC, yTitle: 'Energy (kcal/mol)', yTitlePad: 8,
  legend: { left: 701, right: 882.7, tail: 23.5 }
});
buildPanel({
  id: 'panelD', tag: '(d)', canvasTop: 955, height: 1289 - 955, xAxisHeight: 1289 - 955 - 13 - AREA_H,
  series: [eop3hRmsd, eop5hRmsd, eop9hRmsd, eop10hRmsd, eop13hRmsd, eop14hRmsd, eop15hRmsd, eop21hRmsd],
  names: eopNames, colors: eopColors,
  yMin: 1, yMax: 7.46, yTicks: yTicksD, yTitle: 'RMSD on CAs', yTitlePad: 56,
  xTitle: 'Holographic events',
  legend: { left: 701, right: 882.7, tail: 23.5 }
});
</script>
</body>
</html>
